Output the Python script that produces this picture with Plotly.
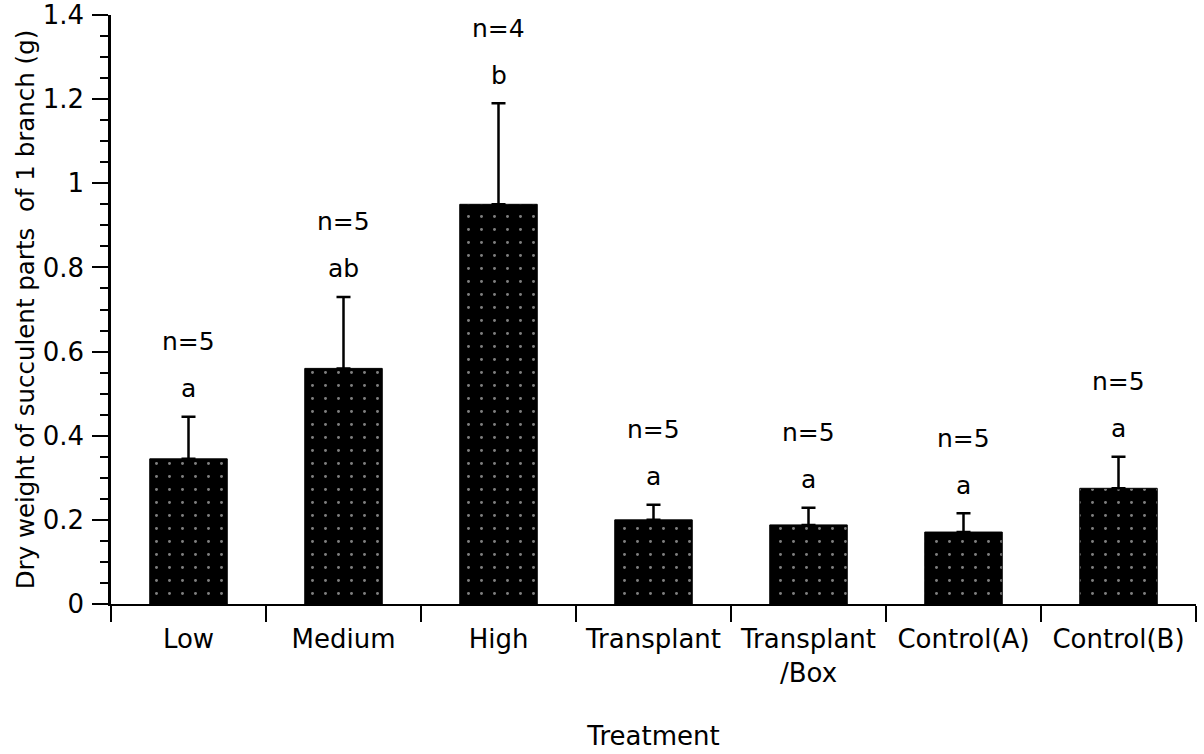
import plotly.graph_objects as go

# Dry weight of succulent parts per branch, by treatment
treatments = ["Low", "Medium", "High", "Transplant", "Transplant<br>/Box", "Control(A)", "Control(B)"]
mean_weight = [0.345, 0.56, 0.95, 0.20, 0.188, 0.171, 0.275]
std_error = [0.10, 0.17, 0.24, 0.036, 0.041, 0.045, 0.075]
sig_letters = ["a", "ab", "b", "a", "a", "a", "a"]
sample_sizes = ["n=5", "n=5", "n=4", "n=5", "n=5", "n=5", "n=5"]
y_tick_values = [0, 0.2, 0.4, 0.6, 0.8, 1.0, 1.2, 1.4]
y_tick_text = ["0", "0.2", "0.4", "0.6", "0.8", "1", "1.2", "1.4"]

FONT = "DejaVu Sans, Liberation Sans, Arial, sans-serif"
BLACK = "#000000"

fig = go.Figure()
fig.add_trace(go.Bar(
    x=treatments,
    y=mean_weight,
    width=0.5,
    marker=dict(
        color=BLACK,
        line=dict(color=BLACK, width=1),
        pattern=dict(shape=".", fgcolor="#ffffff", bgcolor=BLACK, size=13, solidity=0.04),
    ),
    error_y=dict(type="data", array=std_error, arrayminus=[0] * len(std_error),
                 symmetric=False, color=BLACK, thickness=2.5, width=7),
    showlegend=False,
))

# significance letters and sample sizes above each error bar
for cat, m, e, letter, n in zip(treatments, mean_weight, std_error, sig_letters, sample_sizes):
    top = m + e
    fig.add_annotation(x=cat, y=top, text=letter, showarrow=False,
                       yanchor="middle", yshift=28,
                       font=dict(family=FONT, size=25, color=BLACK))
    fig.add_annotation(x=cat, y=top, text=n, showarrow=False,
                       yanchor="middle", yshift=75,
                       font=dict(family=FONT, size=25, color=BLACK))

fig.update_layout(
    width=1204, height=754,
    margin=dict(l=111, r=8, t=15, b=150, autoexpand=False),
    paper_bgcolor="#ffffff", plot_bgcolor="#ffffff",
    font=dict(family=FONT, color=BLACK),
    bargap=0.5,
)
fig.update_xaxes(
    type="category",
    range=[-0.5, 6.5],
    automargin=False,
    showline=True, linecolor=BLACK, linewidth=2,
    ticks="outside", tickson="boundaries", ticklen=16, tickwidth=1.5, tickcolor=BLACK,
    ticklabelstandoff=11,
    tickfont=dict(family=FONT, size=26, color=BLACK),
    showgrid=False, zeroline=False,
    title=dict(text="Treatment", font=dict(family=FONT, size=26, color=BLACK), standoff=40),
)
fig.update_yaxes(
    range=[0, 1.4],
    automargin=False,
    tickvals=y_tick_values,
    ticktext=y_tick_text,
    showline=True, linecolor=BLACK, linewidth=2.5,
    ticks="outside", ticklen=16, tickwidth=2, tickcolor=BLACK,
    minor=dict(dtick=0.05, ticks="outside", ticklen=8, tickwidth=1.5, tickcolor=BLACK, showgrid=False),
    ticklabelstandoff=3,
    ticklabeloverflow="allow",
    tickfont=dict(family=FONT, size=26, color=BLACK),
    showgrid=False, zeroline=False,
    title=dict(text="Dry weight of succulent parts  of 1 branch (g)",
               font=dict(family=FONT, size=24.5, color=BLACK), standoff=2),
)

fig.write_html("out.html")
